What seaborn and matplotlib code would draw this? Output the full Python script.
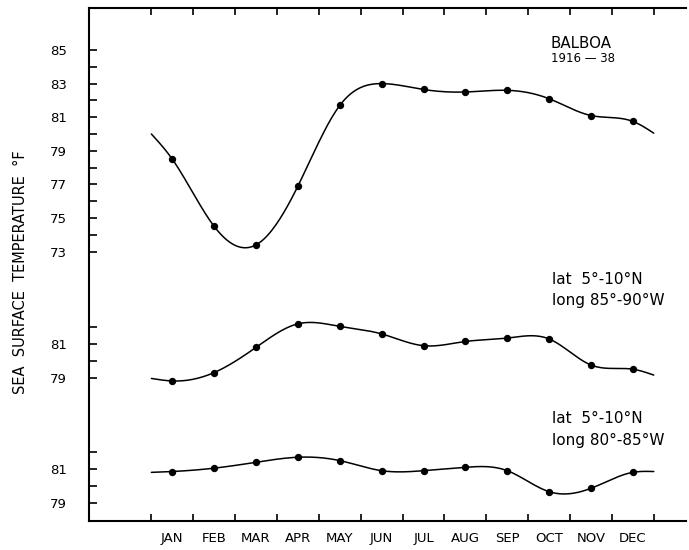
import numpy as np
import pandas as pd
import matplotlib
matplotlib.use("Agg")
import matplotlib.pyplot as plt
import seaborn as sns

sns.set_theme(style="white")
plt.rcParams["font.family"] = ["DejaVu Sans"]
plt.rcParams["text.color"] = "black"
plt.rcParams["xtick.color"] = "black"
plt.rcParams["ytick.color"] = "black"

months = ["JAN", "FEB", "MAR", "APR", "MAY", "JUN",
          "JUL", "AUG", "SEP", "OCT", "NOV", "DEC"]

# Monthly mean sea surface temperature, deg F
balboa = [78.5, 74.5, 73.4, 76.9, 81.7, 83.0, 82.65, 82.5, 82.6, 82.1, 81.1, 80.75]
lat5_long85 = [78.8, 79.3, 80.8, 82.2, 82.05, 81.6, 80.9, 81.15, 81.35, 81.3, 79.75, 79.5]
lat5_long80 = [80.85, 81.05, 81.4, 81.7, 81.5, 80.9, 80.9, 81.1, 80.9, 79.65, 79.85, 80.8]

# values of each drawn curve at the start of January and end of December
curve_ends = {
    "balboa": (80.0, 80.05),
    "lat5_long85": (78.95, 79.15),
    "lat5_long80": (80.8, 80.85),
}

W, H = 689, 550
fig = plt.figure(figsize=(W / 100, H / 100), dpi=100)

x_left, x_right = 89, 686
y_top, y_bottom = 8, 521
xlim = (-1.99, 12.27)
px_per_deg = 16.8


def fig_rect(y0, y1):
    return [x_left / W, 1 - y1 / H, (x_right - x_left) / W, (y1 - y0) / H]


def natural_spline(x, y, xs):
    x = np.asarray(x, float)
    y = np.asarray(y, float)
    n = len(x)
    h = np.diff(x)
    A = np.zeros((n, n))
    r = np.zeros(n)
    A[0, 0] = A[-1, -1] = 1.0
    for i in range(1, n - 1):
        A[i, i - 1] = h[i - 1]
        A[i, i] = 2 * (h[i - 1] + h[i])
        A[i, i + 1] = h[i]
        r[i] = 3 * ((y[i + 1] - y[i]) / h[i] - (y[i] - y[i - 1]) / h[i - 1])
    c = np.linalg.solve(A, r)
    b = (y[1:] - y[:-1]) / h - h * (2 * c[:-1] + c[1:]) / 3
    d = (c[1:] - c[:-1]) / (3 * h)
    idx = np.clip(np.searchsorted(x, xs) - 1, 0, n - 2)
    dx = xs - x[idx]
    return y[idx] + b[idx] * dx + c[idx] * dx ** 2 + d[idx] * dx ** 3


# outer frame with month ticks
frame = fig.add_axes(fig_rect(y_top, y_bottom))
frame.set_xlim(*xlim)
frame.set_ylim(0, 1)
frame.set_facecolor("none")
for side in ["left", "top", "bottom"]:
    frame.spines[side].set_visible(True)
    frame.spines[side].set_color("black")
    frame.spines[side].set_linewidth(1.5)
frame.spines["right"].set_visible(False)
frame.set_yticks([])
boundaries = np.arange(-0.5, 12.0, 1.0)
frame.set_xticks(boundaries)
frame.set_xticklabels([])
frame.set_xticks(np.arange(12), minor=True)
frame.set_xticklabels(months, minor=True, fontsize=9.5)
frame.tick_params(axis="x", which="major", direction="in", length=5, width=1.2,
                  top=True, bottom=True, color="black")
frame.tick_params(axis="x", which="minor", length=0, pad=8)

# three panels sharing the frame: (name, values, pixel span, anchor value, anchor pixel, ticks)
panels = [
    ("balboa", balboa, (y_top, 262), 85, 50, range(73, 86)),
    ("lat5_long85", lat5_long85, (262, 400), 81, 344, range(79, 83)),
    ("lat5_long80", lat5_long80, (400, y_bottom), 81, 469, range(79, 83)),
]

x_pts = np.arange(12)
for name, vals, (p0, p1), v_anchor, y_anchor, ticks in panels:
    ax = fig.add_axes(fig_rect(p0, p1))
    ax.set_facecolor("none")
    ax.set_xlim(*xlim)
    ax.set_ylim(v_anchor - (p1 - y_anchor) / px_per_deg,
                v_anchor + (y_anchor - p0) / px_per_deg)
    for s in ax.spines.values():
        s.set_visible(False)
    ax.set_xticks([])
    ticks = list(ticks)
    ax.set_yticks(ticks)
    ax.set_yticklabels([str(t) if t % 2 == 1 else "" for t in ticks], fontsize=9.5)
    ax.tick_params(axis="y", direction="in", length=6, width=1.2, pad=16,
                   left=True, color="black")

    start, end = curve_ends[name]
    kx = np.concatenate([[-0.5], x_pts, [11.5]])
    ky = np.concatenate([[start], vals, [end]])
    xs = np.linspace(-0.5, 11.5, 400)
    ys = natural_spline(kx, ky, xs)
    sns.lineplot(x=xs, y=ys, ax=ax, color="black", linewidth=1.1, sort=False)
    df = pd.DataFrame({"month": x_pts, "temp": vals})
    sns.scatterplot(data=df, x="month", y="temp", ax=ax, color="black",
                    s=28, edgecolor="black", linewidth=0, zorder=3)
    ax.set_xlabel("")
    ax.set_ylabel("")

fig.text(21 / W, 1 - 272 / H, "SEA  SURFACE  TEMPERATURE  °F", rotation=90,
         ha="center", va="center", fontsize=10.5)

fig.text(550 / W, 1 - 43 / H, "BALBOA", ha="left", va="center", fontsize=10.8)
fig.text(551 / W, 1 - 59 / H, "1916 — 38", ha="left", va="center", fontsize=8.5)

fig.text(552 / W, 1 - 280 / H, "lat  5°-10°N", ha="left", va="center", fontsize=11)
fig.text(552 / W, 1 - 300.5 / H, "long 85°-90°W", ha="left", va="center", fontsize=11)
fig.text(552 / W, 1 - 418.5 / H, "lat  5°-10°N", ha="left", va="center", fontsize=11)
fig.text(552 / W, 1 - 440 / H, "long 80°-85°W", ha="left", va="center", fontsize=11)

fig.savefig("out.png", dpi=100)
